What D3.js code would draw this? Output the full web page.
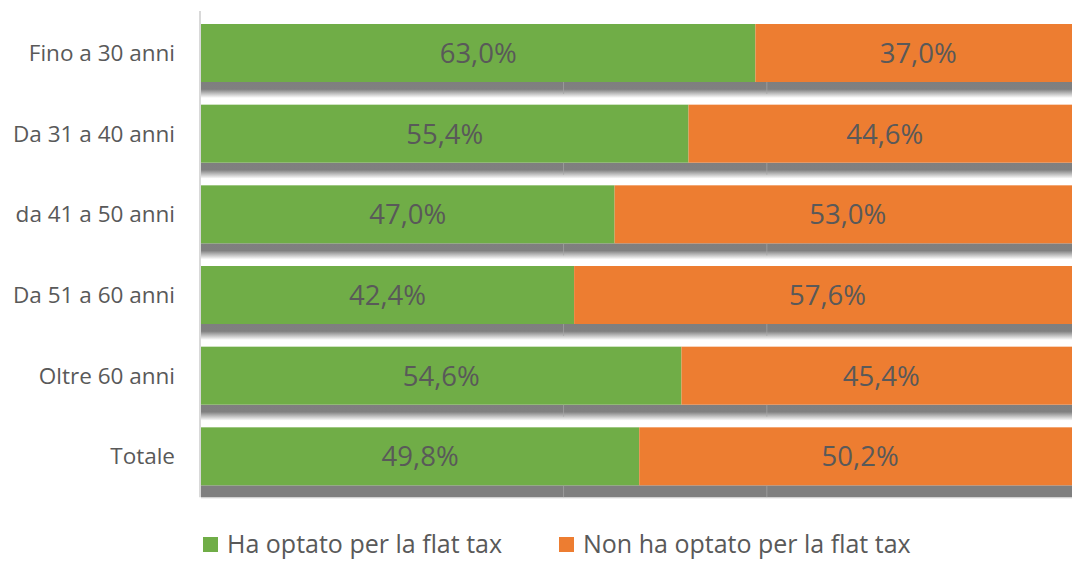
<!DOCTYPE html>
<html lang="it">
  <head>
    <meta charset="utf-8" />
    <title>Flat tax per classe di età</title>
    <script src="https://cdn.jsdelivr.net/npm/d3@7"></script>
    <style>
      body { margin: 0; background: #fff; }
      text { font-family: "Open Sans", sans-serif; fill: #595959; }
    </style>
  </head>
  <body>
    <script>
      // data
      var categories = ["Fino a 30 anni", "Da 31 a 40 anni", "da 41 a 50 anni", "Da 51 a 60 anni", "Oltre 60 anni", "Totale"];
      var optato = [63.0, 55.4, 47.0, 42.4, 54.6, 49.8];
      var nonOptato = [37.0, 44.6, 53.0, 57.6, 45.4, 50.2];
      var seriesNames = ["Ha optato per la flat tax", "Non ha optato per la flat tax"];
      var gridValues = [41.2, 64.3];

      var w = 1072, h = 562;
      var colors = ["#70ad47", "#ed7d31"];

      var svg = d3.select("body").append("svg")
        .attr("width", w).attr("height", h);

      var defs = svg.append("defs");
      var grad = defs.append("linearGradient")
        .attr("id", "shade").attr("x1", 0).attr("y1", 0).attr("x2", 0).attr("y2", 1);
      grad.append("stop").attr("offset", "0%").attr("stop-color", "#7f7f7f");
      grad.append("stop").attr("offset", "45%").attr("stop-color", "#808080");
      grad.append("stop").attr("offset", "100%").attr("stop-color", "#ffffff");

      var x = d3.scaleLinear().domain([0, 100]).range([201, 1081]);
      var y = d3.scaleBand().domain(categories).range([24, 508]).padding(0);
      var barH = 58, shadeH = 16;

      var rows = categories.map(function (c, i) {
        return { cat: c, a: optato[i], b: nonOptato[i], last: i === categories.length - 1 };
      });

      // shadow band under each bar
      svg.selectAll("rect.shade")
        .data(rows)
        .enter()
        .append("rect")
        .attr("class", "shade")
        .attr("x", x(0))
        .attr("y", function (d) { return y(d.cat) + barH; })
        .attr("width", x(100) - x(0))
        .attr("height", function (d) { return d.last ? 12 : shadeH; })
        .attr("fill", function (d) { return d.last ? "#7f7f7f" : "url(#shade)"; });

      // faint gridlines visible in the shadow
      rows.forEach(function (d) {
        svg.selectAll(null)
          .data(gridValues)
          .enter()
          .append("line")
          .attr("x1", function (v) { return x(v); })
          .attr("x2", function (v) { return x(v); })
          .attr("y1", y(d.cat) + barH)
          .attr("y2", y(d.cat) + barH + 12)
          .attr("stroke", "#a6a6a6")
          .attr("stroke-width", 1)
          .attr("opacity", 0.7);
      });

      // floor line
      svg.append("line")
        .attr("x1", x(0)).attr("x2", x(100))
        .attr("y1", y("Totale") + barH + 12.5).attr("y2", y("Totale") + barH + 12.5)
        .attr("stroke", "#d0d0d0").attr("stroke-width", 1);

      // vertical axis
      svg.append("line")
        .attr("x1", 200).attr("x2", 200)
        .attr("y1", 11).attr("y2", y("Totale") + barH + 12)
        .attr("stroke", "#d9d9d9").attr("stroke-width", 2);

      // green segments
      svg.selectAll("rect.a")
        .data(rows)
        .enter()
        .append("rect")
        .attr("class", "a")
        .attr("x", x(0))
        .attr("y", function (d) { return y(d.cat); })
        .attr("width", function (d) { return x(d.a) - x(0); })
        .attr("height", barH)
        .attr("fill", colors[0]);

      // orange segments
      svg.selectAll("rect.b")
        .data(rows)
        .enter()
        .append("rect")
        .attr("class", "b")
        .attr("x", function (d) { return x(d.a); })
        .attr("y", function (d) { return y(d.cat); })
        .attr("width", function (d) { return x(d.a + d.b) - x(d.a); })
        .attr("height", barH)
        .attr("fill", colors[1]);

      var fmt = function (v) { return v.toFixed(1).replace(".", ",") + "%"; };

      // value labels
      svg.selectAll("text.la")
        .data(rows)
        .enter()
        .append("text")
        .attr("class", "la")
        .attr("x", function (d) { return (x(0) + x(d.a)) / 2; })
        .attr("y", function (d) { return y(d.cat) + barH / 2; })
        .attr("dy", "0.36em")
        .attr("text-anchor", "middle")
        .attr("font-size", "27.5px")
        .text(function (d) { return fmt(d.a); });

      svg.selectAll("text.lb")
        .data(rows)
        .enter()
        .append("text")
        .attr("class", "lb")
        .attr("x", function (d) { return (x(d.a) + x(d.a + d.b)) / 2; })
        .attr("y", function (d) { return y(d.cat) + barH / 2; })
        .attr("dy", "0.36em")
        .attr("text-anchor", "middle")
        .attr("font-size", "27.5px")
        .text(function (d) { return fmt(d.b); });

      // category labels
      svg.selectAll("text.cat")
        .data(rows)
        .enter()
        .append("text")
        .attr("class", "cat")
        .attr("x", 175)
        .attr("y", function (d) { return y(d.cat) + barH / 2; })
        .attr("dy", "0.36em")
        .attr("text-anchor", "end")
        .attr("font-size", "22.5px")
        .text(function (d) { return d.cat; });

      // legend
      var legendX = [203, 559];
      var lg = svg.selectAll("g.legend")
        .data(seriesNames)
        .enter()
        .append("g")
        .attr("class", "legend")
        .attr("transform", function (d, i) { return "translate(" + legendX[i] + ",537)"; });
      lg.append("rect")
        .attr("width", 15).attr("height", 15)
        .attr("fill", function (d, i) { return colors[i]; });
      lg.append("text")
        .attr("x", 24)
        .attr("y", 16)
        .attr("font-size", "25px")
        .text(function (d) { return d; });
    </script>
  </body>
</html>
